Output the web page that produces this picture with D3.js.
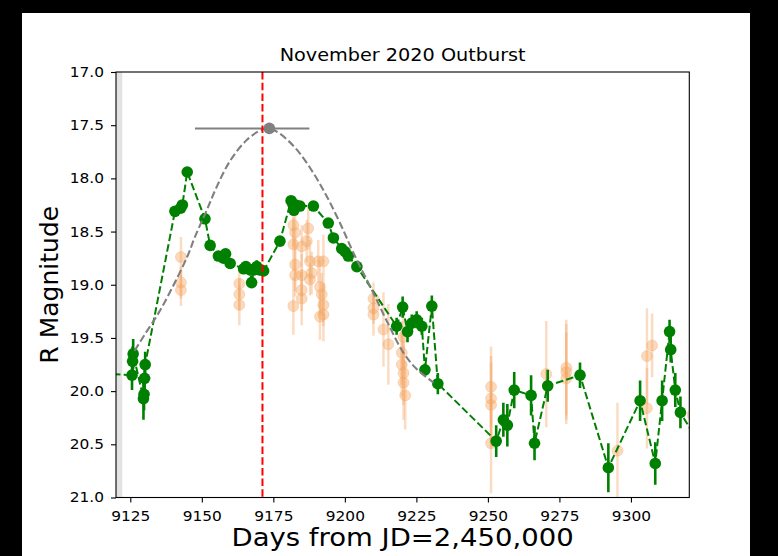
<!DOCTYPE html>
<html><head><meta charset="utf-8">
<script src="https://cdn.jsdelivr.net/npm/d3@7"></script>
<style>
html,body{margin:0;padding:0;background:#000;}
svg{display:block;}
text{font-family:"DejaVu Sans",sans-serif;fill:#000;}
</style></head>
<body><svg id="chart" width="778" height="556"></svg>
<script>
// ---- data ----
const greenDays = [9104,9125.6,9125.8,9126.0,9129.6,9129.8,9130.0,9130.2,9140.6,9142.6,9143.2,9144.9,9151.1,9152.9,9155.8,9157.6,9158.3,9159.9,9164.6,9165.4,9166.9,9167.4,9168.2,9169.2,9170.2,9171.6,9177.3,9181.2,9181.8,9182.2,9182.8,9184.3,9189.0,9194.2,9196.0,9198.9,9200.1,9201.2,9204.2,9218.1,9220.2,9221.9,9223.4,9225.1,9226.9,9228.0,9230.4,9232.5,9252.9,9255.4,9256.8,9259.2,9265.1,9266.3,9270.9,9282.2,9292.1,9303.2,9308.5,9310.9,9313.5,9313.9,9315.5,9317.3,9325];
const greenMag  = [19.82,19.85,19.72,19.65,20.07,20.03,19.88,19.75,18.31,18.28,18.25,17.94,18.38,18.63,18.73,18.75,18.71,18.80,18.85,18.83,18.86,18.98,18.86,18.83,18.86,18.87,18.59,18.21,18.24,18.30,18.25,18.26,18.26,18.42,18.56,18.66,18.69,18.73,18.83,19.39,19.21,19.44,19.36,19.33,19.39,19.80,19.20,19.93,20.47,20.27,20.32,19.99,20.04,20.49,19.95,19.85,20.72,20.09,20.68,20.09,19.44,19.61,19.99,20.20,20.55];
const greenErr  = [0.10,0.14,0.14,0.14,0.20,0.15,0.12,0.12,0.03,0.03,0.03,0.03,0.03,0.03,0.03,0.04,0.04,0.03,0.05,0.05,0.05,0.05,0.04,0.06,0.04,0.04,0.03,0.03,0.03,0.03,0.03,0.03,0.03,0.03,0.03,0.03,0.03,0.03,0.03,0.08,0.10,0.10,0.08,0.08,0.08,0.06,0.10,0.10,0.15,0.16,0.20,0.17,0.19,0.16,0.15,0.12,0.23,0.19,0.20,0.19,0.11,0.12,0.16,0.15,0.10];

const orangeDays = [9142.7,9142.7,9142.7,9163.1,9163.1,9163.1,9182.0,9182.6,9182.0,9182.6,9182.6,9182.0,9184.9,9184.9,9184.9,9184.9,9187.2,9186.7,9187.8,9188.4,9187.8,9190.7,9192.5,9191.3,9191.9,9192.5,9191.3,9192.5,9210.0,9210.0,9210.0,9213.5,9215.2,9219.9,9219.9,9220.5,9220.5,9220.5,9221.1,9251.1,9251.1,9251.1,9251.1,9270.4,9277.4,9277.4,9277.4,9295.3,9305.6,9305.6,9307.4,9321.5];
const orangeMag  = [18.74,18.98,19.05,18.99,19.09,19.19,18.44,18.51,18.62,18.81,18.91,19.20,18.64,18.91,19.05,19.13,18.47,18.59,18.78,18.89,18.95,18.78,18.78,19.02,19.09,19.19,19.30,19.28,19.13,19.22,19.28,19.42,19.56,19.64,19.75,19.49,19.83,19.92,20.04,19.96,20.07,20.13,20.49,19.84,19.78,19.82,19.88,20.56,19.67,20.16,19.57,20.22];
const orangeErr  = [0.19,0.15,0.15,0.13,0.15,0.19,0.2,0.2,0.25,0.25,0.2,0.27,0.2,0.2,0.2,0.25,0.2,0.2,0.2,0.2,0.15,0.2,0.25,0.25,0.2,0.2,0.22,0.25,0.15,0.15,0.2,0.35,0.38,0.3,0.3,0.3,0.3,0.35,0.32,0.38,0.4,0.4,0.47,0.5,0.45,0.45,0.43,0.45,0.45,0.38,0.3,0.2];

const modelDays = [9126.5,9130,9135,9140,9145,9147.6,9151.7,9155.2,9160,9165.7,9171,9173.6,9177.3,9183.2,9189,9193.7,9198.3,9203,9210,9215,9220.5,9225,9231];
const modelMag  = [19.62,19.47,19.26,19.01,18.73,18.55,18.30,18.08,17.83,17.64,17.54,17.53,17.58,17.73,17.95,18.17,18.42,18.70,19.08,19.36,19.64,19.79,19.92];

const peakDay = [9173.6], peakMag = [17.53], peakErrLow = [26], peakErrHigh = [14];
const markerDay = [9171.2];
const bandDays = [9119, 9122.2];

const xTicks = [9125,9150,9175,9200,9225,9250,9275,9300];
const yTicks = [17.0,17.5,18.0,18.5,19.0,19.5,20.0,20.5,21.0];
const titleText = "November 2020 Outburst";
const xLabel = "Days from JD=2,450,000";
const yLabel = "R Magnitude";

// ---- drawing ----
const SX = 1.1; // horizontal text stretch seen in the reference
const svg = d3.select("#chart");
const L = 116, R = 689.3, T = 72, B = 497.5;
svg.append("rect").attr("x",22).attr("y",13).attr("width",728).attr("height",543).attr("fill","#fff");

const x = d3.scaleLinear().domain([9120, 9320.4]).range([L, R]);
const y = d3.scaleLinear().domain([17, 21]).range([T, B]);

svg.append("clipPath").attr("id","clip").append("rect")
  .attr("x",L).attr("y",T).attr("width",R-L).attr("height",B-T);
const g = svg.append("g").attr("clip-path","url(#clip)");

// gray band
g.append("rect").attr("x",x(bandDays[0])).attr("y",T)
  .attr("width",x(bandDays[1])-x(bandDays[0])).attr("height",B-T).attr("fill","#e3e3e3");

// orange
const orange = orangeDays.map((d,i)=>({d, m:orangeMag[i], e:orangeErr[i]}));
const og = g.append("g");
og.selectAll("line").data(orange).join("line")
  .attr("x1",p=>x(p.d)).attr("x2",p=>x(p.d))
  .attr("y1",p=>y(p.m-p.e)).attr("y2",p=>y(p.m+p.e))
  .attr("stroke","#f4a460").attr("stroke-opacity",0.38).attr("stroke-width",2.5);
og.selectAll("circle").data(orange).join("circle")
  .attr("cx",p=>x(p.d)).attr("cy",p=>y(p.m)).attr("r",5.5)
  .attr("fill","#f4a460").attr("fill-opacity",0.42)
  .attr("stroke","#f4a460").attr("stroke-opacity",0.3).attr("stroke-width",1);

// green
const green = greenDays.map((d,i)=>({d, m:greenMag[i], e:greenErr[i]}));
const gg = g.append("g");
gg.append("path").datum(green)
  .attr("d", d3.line().x(p=>x(p.d)).y(p=>y(p.m)))
  .attr("fill","none").attr("stroke","#008000").attr("stroke-width",2)
  .attr("stroke-dasharray","7.5,3.2");
gg.selectAll("line").data(green).join("line")
  .attr("x1",p=>x(p.d)).attr("x2",p=>x(p.d))
  .attr("y1",p=>y(p.m-p.e)).attr("y2",p=>y(p.m+p.e))
  .attr("stroke","#008000").attr("stroke-width",2.6);
gg.selectAll("circle").data(green).join("circle")
  .attr("cx",p=>x(p.d)).attr("cy",p=>y(p.m)).attr("r",5.8)
  .attr("fill","#008000");

// model curve
const model = modelDays.map((d,i)=>({d, m:modelMag[i]}));
g.append("path").datum(model)
  .attr("d", d3.line().curve(d3.curveCatmullRom).x(p=>x(p.d)).y(p=>y(p.m)))
  .attr("fill","none").attr("stroke","#808080").attr("stroke-width",2.1)
  .attr("stroke-dasharray","7.5,3.2");

// peak point
g.append("line").attr("x1",x(peakDay[0]-peakErrLow[0])).attr("x2",x(peakDay[0]+peakErrHigh[0]))
  .attr("y1",y(peakMag[0])).attr("y2",y(peakMag[0]))
  .attr("stroke","#808080").attr("stroke-width",2);
g.append("circle").attr("cx",x(peakDay[0])).attr("cy",y(peakMag[0])).attr("r",5.8).attr("fill","#808080");

// red line
g.append("line").attr("x1",x(markerDay[0])).attr("x2",x(markerDay[0]))
  .attr("y1",T).attr("y2",B)
  .attr("stroke","#ff0000").attr("stroke-width",2).attr("stroke-dasharray","7.5,3.2");

// frame
svg.append("rect").attr("x",L).attr("y",T).attr("width",R-L).attr("height",B-T)
  .attr("fill","none").attr("stroke","#000").attr("stroke-width",1.1);

// axes
const xAxis = svg.append("g").attr("transform",`translate(0,${B})`)
  .call(d3.axisBottom(x).tickValues(xTicks).tickFormat(d3.format("d")).tickSize(5).tickPadding(9));
const yAxis = svg.append("g").attr("transform",`translate(${L},0)`)
  .call(d3.axisLeft(y).tickValues(yTicks).tickFormat(d3.format(".1f")).tickSize(5).tickPadding(4));
[xAxis,yAxis].forEach(a=>{
  a.select(".domain").remove();
  a.selectAll(".tick line").attr("stroke","#000").attr("stroke-width",1.1);
  a.selectAll(".tick text").attr("font-size",14).attr("font-family","DejaVu Sans").attr("fill","#000");
});
xAxis.selectAll(".tick text").attr("transform",`scale(${SX},1)`);
yAxis.selectAll(".tick text").attr("x",null).attr("transform",`translate(-12,0) scale(${SX},1)`);

svg.append("text").attr("transform",`translate(${(L+R)/2},61) scale(${SX},1)`).attr("text-anchor","middle")
  .attr("font-size",17.5).text(titleText);
svg.append("text").attr("transform",`translate(${(L+R)/2},546) scale(${SX},1)`).attr("text-anchor","middle")
  .attr("font-size",25).text(xLabel);
svg.append("text").attr("transform",`translate(58,${(T+B)/2}) rotate(-90)`).attr("text-anchor","middle")
  .attr("font-size",25).text(yLabel);
</script></body></html>
